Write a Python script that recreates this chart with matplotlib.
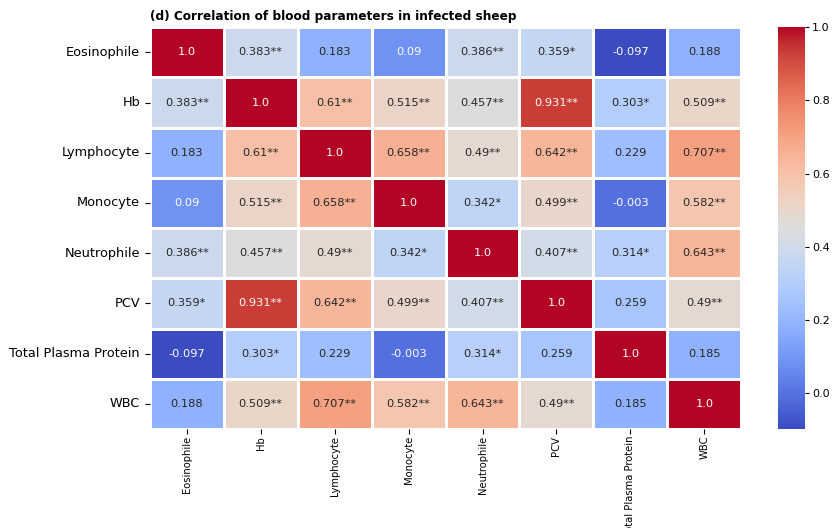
import numpy as np
import matplotlib
matplotlib.use("Agg")
import matplotlib.pyplot as plt
import seaborn as sns

params = ["Eosinophile", "Hb", "Lymphocyte", "Monocyte", "Neutrophile",
          "PCV", "Total Plasma Protein", "WBC"]

# correlation matrix (rows/cols in the order of params)
corr = np.array([
    [1.0,    0.383,  0.183, 0.09,   0.386, 0.359, -0.097, 0.188],
    [0.383,  1.0,    0.61,  0.515,  0.457, 0.931, 0.303,  0.509],
    [0.183,  0.61,   1.0,   0.658,  0.49,  0.642, 0.229,  0.707],
    [0.09,   0.515,  0.658, 1.0,    0.342, 0.499, -0.003, 0.582],
    [0.386,  0.457,  0.49,  0.342,  1.0,   0.407, 0.314,  0.643],
    [0.359,  0.931,  0.642, 0.499,  0.407, 1.0,   0.259,  0.49],
    [-0.097, 0.303,  0.229, -0.003, 0.314, 0.259, 1.0,    0.185],
    [0.188,  0.509,  0.707, 0.582,  0.643, 0.49,  0.185,  1.0],
])

# significance stars
stars = [
    ["",   "**", "",   "",   "**", "*",  "",   ""],
    ["**", "",   "**", "**", "**", "**", "*",  "**"],
    ["",   "**", "",   "**", "**", "**", "",   "**"],
    ["",   "**", "**", "",   "*",  "**", "",   "**"],
    ["**", "**", "**", "*",  "",   "**", "*",  "**"],
    ["*",  "**", "**", "**", "**", "",   "",   "**"],
    ["",   "*",  "",   "",   "*",  "",   "",   ""],
    ["",   "**", "**", "**", "**", "**", "",   ""],
]

labels = np.array([[f"{corr[i, j]}{stars[i][j]}" for j in range(8)]
                   for i in range(8)])

fig = plt.figure(figsize=(8.32, 5.28), dpi=100)
ax = fig.add_axes([0.180, 0.1875, 0.711, 0.761])
cax = fig.add_axes([0.935, 0.1875, 0.0325, 0.761])

sns.heatmap(corr, annot=labels, fmt="", cmap="coolwarm",
            vmin=corr.min(), vmax=1.0, linewidths=2, linecolor="white",
            xticklabels=params, yticklabels=params, ax=ax, cbar_ax=cax,
            annot_kws={"fontsize": 8.2})

ax.tick_params(axis="x", length=3.5, width=0.8, pad=1.5)
ax.tick_params(axis="y", labelrotation=0, labelsize=9.3, length=3.5, width=0.8)
for t in ax.get_xticklabels():
    t.set_rotation(90)
    t.set_fontsize(8.0)
    t.set_fontstretch("condensed")
cax.set_yticks([0.0, 0.2, 0.4, 0.6, 0.8, 1.0])
cax.tick_params(labelsize=8, length=3, pad=2)
ax.set_title("(d) Correlation of blood parameters in infected sheep",
             loc="left", fontsize=8.7, fontweight="bold", pad=5)

fig.savefig("out.png", dpi=100)
